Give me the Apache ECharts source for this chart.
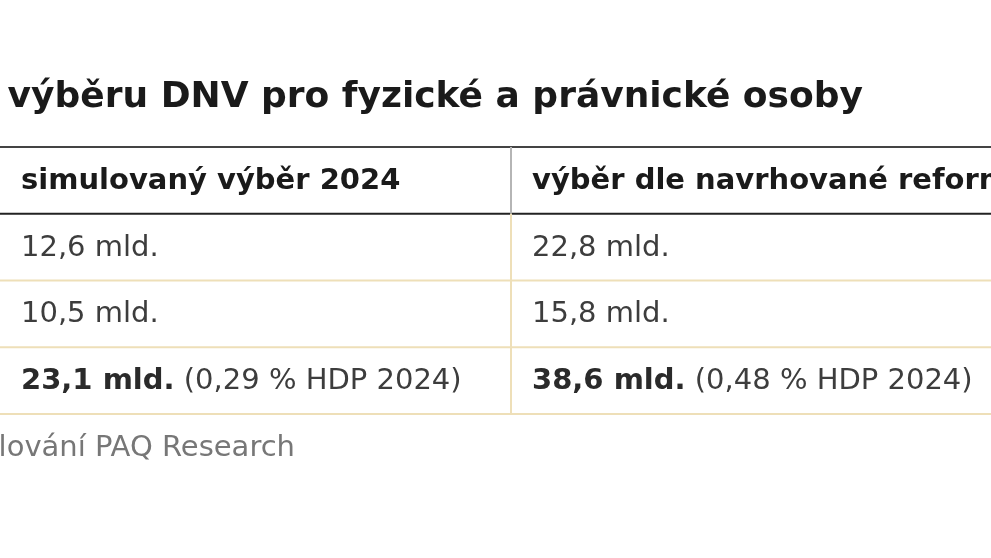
<!DOCTYPE html>
<html><head><meta charset="utf-8">
<script src="https://cdn.jsdelivr.net/npm/echarts@6/dist/echarts.min.js"></script>
<style>html,body{margin:0;padding:0;background:#fff}#c{width:991px;height:558px}</style>
</head><body><div id="c"></div>
<script>
const title = 'Simulace výběru DNV pro fyzické a právnické osoby';
const columns = ['', 'simulovaný výběr 2024', 'výběr dle navrhované reformy'];
const rows = ['header', 'fyzické osoby', 'právnické osoby', 'celkem'];
const col2024 = ['12,6 mld.', '10,5 mld.', '{b|23,1 mld.} (0,29 % HDP 2024)'];
const colReform = ['22,8 mld.', '15,8 mld.', '{b|38,6 mld.} (0,48 % HDP 2024)'];
const source = 'Zdroj: modelování PAQ Research';

const data = [];
for (let c = 0; c < 3; c++) {
  for (let r = 0; r < 4; r++) {
    let t = '';
    if (r === 0) t = columns[c];
    else if (c === 1) t = col2024[r - 1];
    else if (c === 2) t = colReform[r - 1];
    data.push([c - 1, r, t]);
  }
}
const FONT = '"DejaVu Sans", sans-serif';
const chart = echarts.init(document.getElementById('c'));
chart.setOption({
  animation: false,
  graphic: [
    {type: 'text', right: 128, top: 80, style: {text: title, font: 'bold 36px ' + FONT, fill: '#1a1a1a', textAlign: 'right'}},
    {type: 'text', right: 696, top: 434, style: {text: source, font: '29px ' + FONT, fill: '#777', textAlign: 'right'}}
  ],
  grid: {left: 0, right: 0, top: 147, height: 267},
  xAxis: {type: 'value', min: 0, max: 991 / 511, show: false},
  yAxis: {type: 'category', data: rows, inverse: true, show: false},
  series: [{
    type: 'custom',
    clip: false,
    data: data,
    renderItem: function (params, api) {
      const c = api.value(0), r = api.value(1);
      const center = api.coord([c, r]);
      const left = api.coord([c, r])[0];
      const right = api.coord([c + 1, r])[0];
      const size = api.size([1, 1]);
      const x0 = left, x1 = right;
      const y0 = center[1] - size[1] / 2, y1 = y0 + size[1];
      const header = r === 0;
      const children = [];
      children.push({type: 'line', shape: {x1: x0, y1: y1, x2: x1, y2: y1},
        style: {stroke: header ? '#222' : '#eedfb8', lineWidth: 2}});
      if (header) children.push({type: 'line', shape: {x1: x0, y1: y0, x2: x1, y2: y0}, style: {stroke: '#444', lineWidth: 2}});
      if (c > 0) children.push({type: 'line', shape: {x1: x0, y1: y0, x2: x0, y2: y1},
        style: {stroke: header ? '#b5b5b5' : '#eedfb8', lineWidth: 2}});
      children.push({type: 'text', style: {
        text: data[params.dataIndex][2], x: x0 + 21, y: (y0 + y1) / 2 + 1, verticalAlign: 'middle',
        font: (header ? 'bold ' : '') + '29px ' + FONT, fill: header ? '#1a1a1a' : '#3d3d3d',
        rich: {b: {fontWeight: 'bold', fontSize: 29, fontFamily: 'DejaVu Sans', fill: '#2a2a2a'}}
      }});
      return {type: 'group', children: children};
    }
  }]
});
</script></body></html>
